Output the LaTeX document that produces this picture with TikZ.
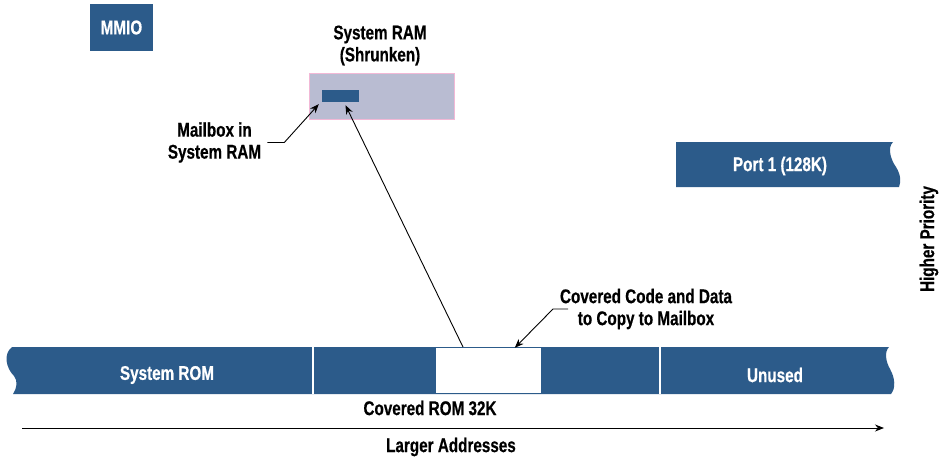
\documentclass[tikz,border=0pt]{standalone}
\usepackage{fontspec}
\setmainfont{Liberation Sans}[FakeStretch=0.77, BoldFeatures={FakeBold=0.5}]
\usetikzlibrary{calc,arrows.meta}
\definecolor{barblue}{HTML}{2C5B8A}
\definecolor{ramfill}{HTML}{B9BCD2}
\definecolor{rampink}{HTML}{F2B8D6}
\tikzset{
  lbl/.style={font=\fontsize{19.8}{22}\selectfont\bfseries, inner sep=0pt, align=center},
  wlbl/.style={lbl, text=white},
  bluebox/.style={fill=barblue, draw=none, inner sep=0pt},
  arr/.style={draw=black, line width=0.9pt, -{Stealth[length=9pt,width=7pt]}},
  divider/.style={draw=white, line width=2pt},
}
\begin{document}
\begin{tikzpicture}[x=1pt,y=-1pt]
\useasboundingbox (0,0) rectangle (940,460);

% MMIO
\node[bluebox, minimum width=63pt, minimum height=47pt] (mmio) at (121.5,27.5) {};
\node[wlbl] (mmiotext) at (mmio.center) {MMIO};

% System RAM
\node[lbl] (ramtitle) at (380,45.5) {System RAM\\(Shrunken)};
\node[fill=ramfill, draw=rampink, line width=0.8pt, minimum width=145pt, minimum height=46pt, inner sep=0pt] (ram) at (381.5,96) {};
\node[bluebox, minimum width=37pt, minimum height=12pt] (mail) at (340.5,96) {};
\node[lbl] (mbtext) at (214.5,142.5) {Mailbox in\\System RAM};

% Port 1
\fill[barblue] (676,142) -- (893,142) .. controls (887,148) and (891,160) .. (896,167)
   .. controls (901,175) and (901,182) .. (899,187) -- (676,187) -- cycle;
\coordinate (portc) at (780,166);
\node[wlbl] (porttext) at (portc) {Port 1 (128K)};

% Higher priority
\node[lbl, rotate=90] (hp) at (929,239) {Higher Priority};

% ROM bar
\fill[barblue] (12,347) -- (889,347) .. controls (884,352) and (886,362) .. (890,369)
   .. controls (895,378) and (896,388) .. (891,394) -- (13,394)
   .. controls (17,388) and (18,381) .. (14,376) .. controls (6,368) and (3,354) .. (12,347) -- cycle;
\coordinate (d1t) at (313,347); \coordinate (d1b) at (313,394);
\coordinate (d2t) at (660,347); \coordinate (d2b) at (660,394);
\draw[divider] (d1t) -- (d1b);
\draw[divider] (d2t) -- (d2b);
\node[fill=white, draw=none, minimum width=105pt, minimum height=45pt, inner sep=0pt] (cov) at (488.5,370.5) {};
\node[wlbl] (sysrom) at (167,375) {System ROM};
\node[wlbl] (unused) at (775,375) {Unused};
\node[lbl] (covrom) at (430,408) {Covered ROM 32K};

% Covered code label
\node[lbl] (cctext) at (646,309) {Covered Code and Data\\to Copy to Mailbox};

% Connectors
\coordinate (copyfrom) at (463,347);
\draw[arr] (copyfrom) -- ($(mail.south)+(5,3)$);
\draw[arr] ($(mbtext.east)+(6,0)$) -- ++(17,0) -- ($(mail.south west)+(-3,2)$);
\coordinate (ccstart) at (568,309);
\draw[arr] (ccstart) -- (553,309) -- ($(cov.north west)+(79,0)$);

% Address axis
\coordinate (ax0) at (22,428);
\coordinate (ax1) at (884,428);
\draw[arr] (ax0) -- (ax1);
\node[lbl] (laddr) at (451,447) {Larger Addresses};
\end{tikzpicture}
\end{document}
